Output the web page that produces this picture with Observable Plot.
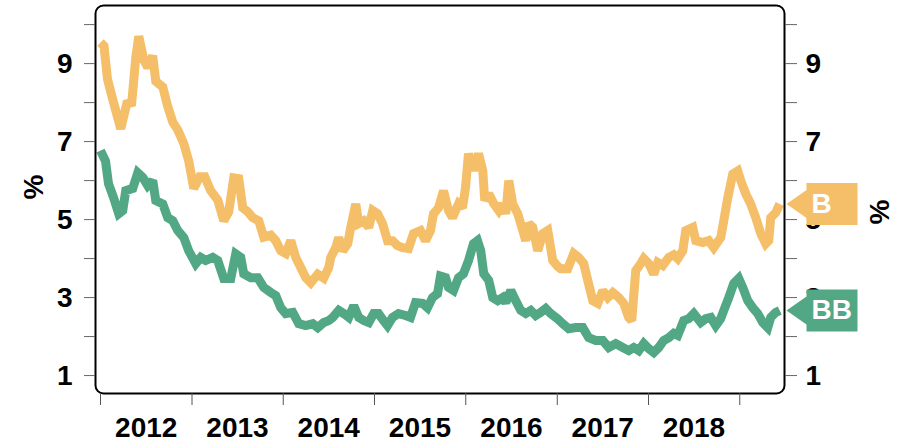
<!DOCTYPE html>
<html><head><meta charset="utf-8">
<script src="https://cdn.jsdelivr.net/npm/d3@7"></script>
<script src="https://cdn.jsdelivr.net/npm/@observablehq/plot@0.6"></script>
<style>html,body{margin:0;padding:0;background:#fff;}</style>
</head><body><div id="chart"></div>
<script>
const seriesNames = ["B", "BB"];
const seriesColors = ["#f5bf69", "#52a785"];
const yearLabels = [2012, 2013, 2014, 2015, 2016, 2017, 2018];
const yearTicks = [2012, 2013, 2014, 2015, 2016, 2017, 2018, 2019];
const majorYTicks = [1, 3, 5, 7, 9];
const minorYTicks = [2, 4, 6, 8, 10];
const unitLabel = "%";

const bDates = [
"2012-01-01","2012-01-15","2012-01-29","2012-02-18","2012-03-22","2012-04-15","2012-05-05","2012-05-21","2012-06-02","2012-06-22","2012-07-08","2012-07-28","2012-08-09","2012-09-06","2012-09-26","2012-10-16","2012-11-05","2012-11-29","2012-12-19",
"2013-01-08","2013-02-01","2013-02-21","2013-03-17","2013-04-14","2013-05-08","2013-05-28","2013-06-17","2013-07-07","2013-07-23","2013-08-12","2013-09-01","2013-09-25","2013-10-15","2013-11-12","2013-12-02","2013-12-22",
"2014-01-11","2014-01-31","2014-02-20","2014-03-12","2014-04-01","2014-04-21","2014-05-19","2014-06-12","2014-07-02","2014-07-10","2014-07-30","2014-08-11","2014-08-27","2014-09-16","2014-09-28","2014-10-18","2014-10-30","2014-11-19","2014-12-09","2014-12-25",
"2015-01-13","2015-02-02","2015-02-22","2015-03-14","2015-04-03","2015-04-23","2015-05-17","2015-06-06","2015-07-04","2015-07-24","2015-08-13","2015-08-25","2015-09-14","2015-10-04","2015-10-24","2015-11-09","2015-12-03","2015-12-19","2015-12-31",
"2016-01-12","2016-02-01","2016-02-21","2016-03-09","2016-03-17","2016-04-02","2016-04-22","2016-05-12","2016-05-28","2016-06-09","2016-06-21","2016-07-07","2016-07-27","2016-08-16","2016-08-28","2016-09-09","2016-09-25","2016-10-15","2016-11-04","2016-11-24","2016-12-14",
"2017-01-03","2017-01-15","2017-02-12","2017-03-08","2017-03-28","2017-04-17","2017-05-03","2017-05-23","2017-06-12","2017-07-02","2017-07-22","2017-08-11","2017-09-04","2017-09-24","2017-10-14","2017-10-26","2017-11-11","2017-12-01","2017-12-13",
"2018-01-02","2018-01-22","2018-02-07","2018-02-27","2018-03-23","2018-04-12","2018-04-28","2018-05-18","2018-05-30","2018-06-27","2018-07-09","2018-08-06","2018-08-30","2018-09-19","2018-10-17","2018-10-29","2018-11-14","2018-12-04","2018-12-24",
"2019-01-05","2019-01-25","2019-02-14","2019-03-06","2019-03-26","2019-04-15","2019-04-27","2019-05-05","2019-05-25","2019-06-10"
];
const bValues = [
9.54,9.45,8.6,8.1,7.33,7.97,8.0,9.15,9.7,9.1,8.9,9.2,8.55,8.4,7.9,7.5,7.3,6.95,6.5,
5.8,6.1,6.1,5.74,5.5,4.97,5.2,6.07,6.05,5.3,5.2,5.05,4.97,4.55,4.6,4.46,4.2,
4.13,4.46,4.03,3.77,3.51,3.38,3.6,3.5,3.77,4.03,4.28,4.54,4.2,4.38,4.8,5.4,4.9,4.97,4.8,5.23,
5.15,4.9,4.46,4.46,4.33,4.28,4.26,4.64,4.72,4.46,4.72,5.15,5.3,5.74,5.23,5.05,5.4,5.3,5.82,
6.69,6.26,6.69,6.26,5.49,5.66,5.41,5.23,5.4,5.15,6.0,5.4,5.15,4.72,4.46,4.9,4.8,4.2,4.64,4.72,3.95,
3.8,3.74,3.74,4.13,4.03,3.87,3.44,2.92,2.85,3.18,3.0,3.13,3.0,2.85,2.49,2.41,3.69,3.87,4.0,
3.87,3.6,3.9,3.82,4.03,4.1,4.0,4.2,4.72,4.8,4.46,4.41,4.46,4.28,4.54,4.97,5.56,6.17,6.25,
6.0,5.66,5.4,5.05,4.64,4.38,4.46,5.05,5.18,5.4
];

const bbDates = [
"2012-01-01","2012-01-21","2012-02-02","2012-02-22","2012-03-14","2012-03-30","2012-04-11","2012-05-09","2012-05-29","2012-06-18","2012-07-08","2012-07-28","2012-08-09","2012-09-06","2012-09-26","2012-10-16","2012-11-05","2012-11-29","2012-12-19",
"2013-01-16","2013-02-05","2013-02-25","2013-03-25","2013-04-14","2013-05-08","2013-06-05","2013-06-25","2013-07-15","2013-07-27","2013-08-24","2013-09-21","2013-10-15","2013-11-12","2013-12-02","2013-12-22",
"2014-01-11","2014-02-08","2014-03-04","2014-04-01","2014-04-29","2014-05-19","2014-06-12","2014-07-02","2014-07-18","2014-08-11","2014-08-31","2014-09-20","2014-10-10","2014-10-30","2014-11-19","2014-12-09","2014-12-29",
"2015-01-17","2015-02-06","2015-02-22","2015-03-14","2015-04-07","2015-05-05","2015-05-25","2015-06-14","2015-07-12","2015-08-01","2015-08-21","2015-09-10","2015-09-22","2015-10-12","2015-10-24","2015-11-13","2015-12-03","2015-12-23",
"2016-01-12","2016-02-01","2016-02-17","2016-03-01","2016-03-13","2016-04-02","2016-04-18","2016-05-08","2016-05-28","2016-06-09","2016-06-29","2016-07-19","2016-08-08","2016-08-28","2016-09-17","2016-10-07","2016-10-27","2016-11-16","2016-12-06",
"2017-01-03","2017-01-23","2017-02-16","2017-03-16","2017-04-13","2017-05-07","2017-06-04","2017-07-02","2017-07-26","2017-08-23","2017-09-20","2017-10-14","2017-11-03","2017-11-23","2017-12-13",
"2018-01-02","2018-01-22","2018-02-11","2018-03-03","2018-03-23","2018-04-12","2018-04-28","2018-05-22","2018-06-11","2018-07-01","2018-07-29","2018-08-18","2018-09-07","2018-09-27","2018-10-17","2018-10-29","2018-11-18","2018-12-08","2018-12-28",
"2019-01-13","2019-02-02","2019-02-22","2019-03-14","2019-04-03","2019-04-23","2019-05-05","2019-05-25","2019-06-10"
];
const bbValues = [
6.77,6.5,5.92,5.57,5.15,5.23,5.74,5.8,6.2,6.08,5.87,6.0,5.49,5.4,5.05,4.97,4.72,4.54,4.2,
3.87,4.03,3.95,4.03,3.95,3.49,3.49,4.12,4.03,3.61,3.51,3.51,3.26,3.13,3.05,2.74,
2.59,2.62,2.33,2.28,2.33,2.23,2.36,2.41,2.49,2.67,2.59,2.49,2.79,2.49,2.41,2.36,2.59,
2.59,2.41,2.28,2.49,2.59,2.54,2.49,2.87,2.85,2.74,3.0,3.1,3.55,3.51,3.26,3.18,3.51,3.61,
3.95,4.38,4.46,4.2,3.61,3.44,3.0,2.92,3.0,2.87,3.18,2.92,2.67,2.59,2.67,2.54,2.62,2.72,2.59,
2.45,2.33,2.2,2.23,2.23,1.97,1.9,1.9,1.72,1.82,1.72,1.64,1.72,1.64,1.82,
1.69,1.59,1.72,1.9,1.97,2.08,2.03,2.41,2.46,2.59,2.36,2.46,2.49,2.28,2.46,2.67,3.0,3.36,3.49,
3.26,2.92,2.74,2.59,2.36,2.23,2.49,2.62,2.67
];

const parse = d3.utcParse("%Y-%m-%d");
const bData = bDates.map((d, i) => ({date: parse(d), value: bValues[i]}));
const bbData = bbDates.map((d, i) => ({date: parse(d), value: bbValues[i]}));
const seriesData = [bData, bbData];
const lastPoints = seriesData.map((s, i) => ({name: seriesNames[i], value: s[s.length - 1].value, color: seriesColors[i]}));

const yearStartDates = yearTicks.map(y => new Date(Date.UTC(y, 0, 1)));
const yearMidDates = yearLabels.map(y => new Date(Date.UTC(y, 6, 2)));

const tagShape = {
  draw(ctx) {
    ctx.moveTo(0, 0);
    ctx.lineTo(20, -14);
    ctx.lineTo(20, -21);
    ctx.lineTo(71, -21);
    ctx.lineTo(71, 21);
    ctx.lineTo(20, 21);
    ctx.lineTo(20, 14);
    ctx.closePath();
  }
};

const font = {fontSize: 28, fontWeight: "bold"};

const chart = Plot.plot({
  width: 906,
  height: 443,
  marginLeft: 95,
  marginRight: 122,
  marginTop: 5,
  marginBottom: 50,
  style: {fontFamily: "'Liberation Sans', Arial, sans-serif", fontWeight: "bold", color: "black", background: "white"},
  x: {type: "utc", domain: [new Date(Date.UTC(2011, 11, 12)), new Date(Date.UTC(2019, 5, 29))]},
  y: {domain: [0.54, 10.49]},
  marks: [
    ...seriesData.map((s, i) => Plot.line(s, {x: "date", y: "value", stroke: seriesColors[i], strokeWidth: 9, strokeLinejoin: "miter", strokeMiterlimit: 2, strokeLinecap: "butt"})),
    Plot.frame({stroke: "black", strokeWidth: 2, rx: 8}),
    Plot.axisY(majorYTicks, {anchor: "left", tickSize: 11, tickPadding: 12, stroke: "#666", fill: "black", label: null, ...font}),
    Plot.axisY(minorYTicks, {anchor: "left", tickSize: 11, tickFormat: () => "", stroke: "#666", label: null}),
    Plot.axisY(majorYTicks, {anchor: "right", tickSize: 12, tickPadding: 9, stroke: "#666", fill: "black", label: null, ...font}),
    Plot.axisY(minorYTicks, {anchor: "right", tickSize: 12, tickFormat: () => "", stroke: "#666", label: null}),
    Plot.axisX(yearStartDates, {anchor: "bottom", tickSize: 12, tickFormat: () => "", stroke: "#555", label: null}),
    Plot.axisX(yearMidDates, {anchor: "bottom", tickSize: 0, tickPadding: 24, tickFormat: d3.utcFormat("%Y"), fill: "black", label: null, ...font}),
    Plot.text([unitLabel], {frameAnchor: "left", dx: -61, rotate: -90, fill: "black", ...font}),
    Plot.text([unitLabel], {frameAnchor: "right", dx: 96, rotate: -90, fill: "black", ...font}),
    ...lastPoints.map(p => Plot.dot([p], {y: "value", frameAnchor: "right", dx: 2, symbol: tagShape, r: 5, fill: p.color, stroke: "none"})),
    Plot.text(lastPoints, {y: "value", frameAnchor: "right", dx: 27, textAnchor: "start", text: "name", fill: "white", ...font})
  ]
});
document.getElementById("chart").appendChild(chart);
</script>
</body></html>
